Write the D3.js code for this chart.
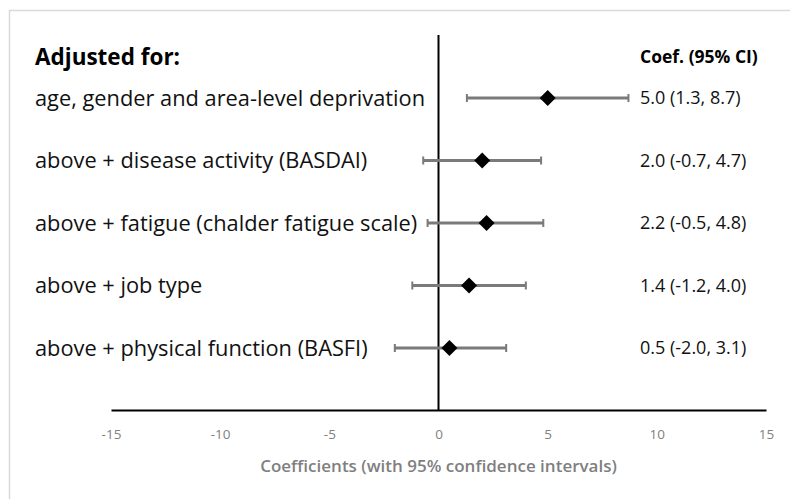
<!DOCTYPE html>
<html>
<head>
<meta charset="utf-8">
<script src="https://cdn.jsdelivr.net/npm/d3@7"></script>
<style>
  body { margin: 0; background: #fff; }
  svg text { font-family: "Open Sans", Lato, sans-serif; }
</style>
</head>
<body>
<div id="chart"></div>
<script>
// data
const labels = [
  'age, gender and area-level deprivation',
  'above + disease activity (BASDAI)',
  'above + fatigue (chalder fatigue scale)',
  'above + job type',
  'above + physical function (BASFI)'
];
const coefs = [5.0, 2.0, 2.2, 1.4, 0.5];
const lower = [1.3, -0.7, -0.5, -1.2, -2.0];
const upper = [8.7, 4.7, 4.8, 4.0, 3.1];
const ciText = ['5.0 (1.3, 8.7)', '2.0 (-0.7, 4.7)', '2.2 (-0.5, 4.8)', '1.4 (-1.2, 4.0)', '0.5 (-2.0, 3.1)'];
const xTicks = [-15, -10, -5, 0, 5, 10, 15];

const width = 800;
const height = 499;

const rows = labels.map((l, i) => ({ label: l, coef: coefs[i], lo: lower[i], hi: upper[i], txt: ciText[i] }));

const xScale = d3.scaleLinear().domain([-15, 15]).range([111, 766]);
const yScale = d3.scalePoint().domain(d3.range(rows.length)).range([98, 348]);

const svg = d3.select('#chart').append('svg')
  .attr('width', width)
  .attr('height', height);

// light frame (top + left only visible)
svg.append('path')
  .attr('d', 'M9.5,499 L9.5,10.5 L790,10.5')
  .style('fill', 'none')
  .style('stroke', '#d9d9d9')
  .style('stroke-width', 1.5);

/* x axis */
const xAxis = d3.axisBottom(xScale).tickValues(xTicks).tickSize(0).tickPadding(19)
  .tickFormat(d => String(d));
const gx = svg.append('g')
  .attr('transform', 'translate(0, 410)')
  .call(xAxis);
gx.select('.domain').style('stroke', '#000').style('stroke-width', 2);
gx.selectAll('text')
  .style('font-family', '"Open Sans", sans-serif')
  .style('font-size', '13.5px')
  .style('fill', '#7f7f7f');

svg.append('text')
  .attr('x', xScale(0))
  .attr('y', 472)
  .attr('text-anchor', 'middle')
  .style('font-size', '17px')
  .style('font-weight', '600')
  .style('fill', '#7f7f7f')
  .text('Coefficients (with 95% confidence intervals)');

// zero line
svg.append('line')
  .attr('x1', xScale(0)).attr('x2', xScale(0))
  .attr('y1', 35).attr('y2', 410)
  .style('stroke', '#000')
  .style('stroke-width', 2);

// headers
svg.append('text')
  .attr('x', 35).attr('y', 65)
  .style('font-size', '22.5px')
  .style('font-weight', 'bold')
  .style('fill', '#000')
  .text('Adjusted for:');

svg.append('text')
  .attr('x', 640).attr('y', 63)
  .style('font-size', '17.5px')
  .style('font-weight', 'bold')
  .style('fill', '#000')
  .text('Coef. (95% CI)');

const row = svg.selectAll('.row')
  .data(rows).enter()
  .append('g')
  .attr('class', 'row');

row.append('text')
  .attr('x', 35)
  .attr('y', (d, i) => yScale(i))
  .attr('dy', '0.35em')
  .style('font-size', '21.8px')
  .style('fill', '#111')
  .text(d => d.label);

row.append('text')
  .attr('x', 640)
  .attr('y', (d, i) => yScale(i))
  .attr('dy', '0.35em')
  .style('font-size', '18px')
  .style('fill', '#111')
  .text(d => d.txt);

// CI lines
row.append('line')
  .attr('x1', d => xScale(d.lo)).attr('x2', d => xScale(d.hi))
  .attr('y1', (d, i) => yScale(i)).attr('y2', (d, i) => yScale(i))
  .style('stroke', '#7a7a7a')
  .style('stroke-width', 3);

// caps
['lo', 'hi'].forEach(k => {
  row.append('line')
    .attr('x1', d => xScale(d[k])).attr('x2', d => xScale(d[k]))
    .attr('y1', (d, i) => yScale(i) - 4).attr('y2', (d, i) => yScale(i) + 4)
    .style('stroke', '#7a7a7a')
    .style('stroke-width', 2);
});

// diamonds
row.append('path')
  .attr('d', 'M0,-8 L8,0 L0,8 L-8,0 Z')
  .attr('transform', (d, i) => `translate(${xScale(d.coef)}, ${yScale(i)})`)
  .style('fill', '#000');
</script>
</body>
</html>
